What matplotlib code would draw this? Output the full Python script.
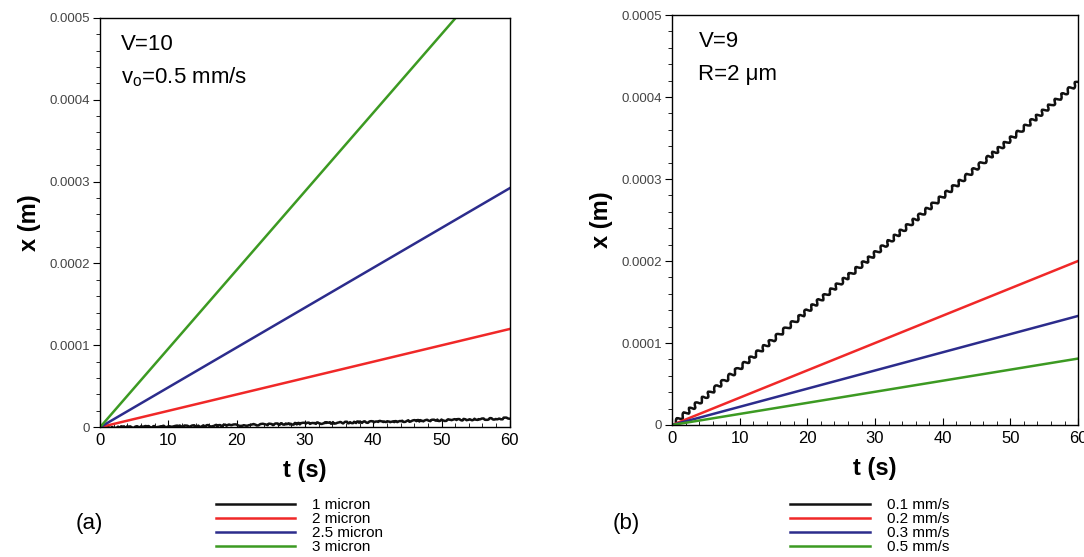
import matplotlib
matplotlib.use("Agg")
import matplotlib.pyplot as plt
from matplotlib.lines import Line2D
from matplotlib.ticker import MultipleLocator, FuncFormatter

# panel (a): V=10, v0=0.5 mm/s, varying particle radius
t_a = [0, 60]
labels_a = ["1 micron", "2 micron", "2.5 micron", "3 micron"]
x_a = [
    [0.0, 0.000011],
    [0.0, 0.000120],
    [0.0, 0.000292],
    [0.0, 0.000576],
]
# 1 micron curve is slightly noisy near zero
t_a1 = [0, 5, 10, 15, 20, 25, 30, 35, 40, 45, 50, 55, 60]
x_a1 = [0, 0.2e-6, 1.0e-6, 1.5e-6, 2.5e-6, 3.5e-6, 4.5e-6, 5.5e-6, 6.5e-6, 7.5e-6, 8.5e-6, 9.5e-6, 11e-6]

# panel (b): V=9, R=2 um, varying initial velocity
t_b = [0, 60]
labels_b = ["0.1 mm/s", "0.2 mm/s", "0.3 mm/s", "0.5 mm/s"]
x_b = [
    [0.0, 0.000418],
    [0.0, 0.000200],
    [0.0, 0.000133],
    [0.0, 0.000081],
]

colors = ["#111111", "#f02828", "#2c2c8c", "#3c9a22"]

fig = plt.figure(figsize=(10.84, 5.57), dpi=100)
ax1 = fig.add_axes([0.0923, 0.233, 0.378, 0.735])
ax2 = fig.add_axes([0.620, 0.237, 0.3745, 0.736])

narrow = ["Liberation Sans Narrow", "Liberation Sans", "DejaVu Sans"]
sans = ["Liberation Sans", "DejaVu Sans"]

def fmt_y(v, pos):
    if abs(v) < 1e-12:
        return "0"
    return "%.4f" % v

def style(ax):
    ax.set_xlim(0, 60)
    ax.set_ylim(0, 0.0005)
    ax.xaxis.set_major_locator(MultipleLocator(10))
    ax.xaxis.set_minor_locator(MultipleLocator(2))
    ax.yaxis.set_major_locator(MultipleLocator(0.0001))
    ax.yaxis.set_minor_locator(MultipleLocator(0.00002))
    ax.yaxis.set_major_formatter(FuncFormatter(fmt_y))
    ax.tick_params(axis="x", which="major", direction="in", length=5, pad=4, labelsize=12)
    ax.tick_params(axis="x", which="minor", direction="in", length=3)
    ax.tick_params(axis="y", which="major", direction="out", length=5, pad=2, labelsize=9.5, labelcolor="#444444")
    ax.tick_params(axis="y", which="minor", direction="out", length=3)
    for lab in ax.get_yticklabels():
        lab.set_family(narrow)
    for lab in ax.get_xticklabels():
        lab.set_family(sans)
    for s in ax.spines.values():
        s.set_linewidth(1.0)
    ax.set_xlabel("t (s)", fontsize=17, fontweight="bold", family=sans, labelpad=8)
    ax.set_ylabel("x (m)", fontsize=17, fontweight="bold", family=sans, labelpad=6)

for i in range(4):
    if i == 0:
        ln, = ax1.plot(t_a1, x_a1, color=colors[i], lw=1.8)
        ln.set_sketch_params(scale=0.8, length=8, randomness=6)
    else:
        ax1.plot(t_a, x_a[i], color=colors[i], lw=1.8)

for i in range(4):
    ln, = ax2.plot(t_b, x_b[i], color=colors[i], lw=1.8)
    if i == 0:
        ln.set_sketch_params(scale=2.2, length=9, randomness=1.5)

# straight legend samples
handles_a = [Line2D([], [], color=c, lw=1.8, label=l) for c, l in zip(colors, labels_a)]
handles_b = [Line2D([], [], color=c, lw=1.8, label=l) for c, l in zip(colors, labels_b)]

style(ax1)
style(ax2)

ax1.text(0.05, 0.96, "V=10", transform=ax1.transAxes, fontsize=16, family=sans, va="top")
ax1.text(0.05, 0.885, "v$_\\mathregular{o}$=0.5 mm/s", transform=ax1.transAxes, fontsize=16, family=sans, va="top")
ax2.text(0.065, 0.96, "V=9", transform=ax2.transAxes, fontsize=16, family=sans, va="top")
ax2.text(0.065, 0.88, "R=2 \u03bcm", transform=ax2.transAxes, fontsize=16, family=sans, va="top")

fig.legend(handles=handles_a, loc="center left", bbox_to_anchor=(0.192, 0.055),
           frameon=False, labelspacing=0.0, handlelength=5.2,
           handletextpad=1.1, borderpad=0, prop={"family": sans, "size": 11})
fig.legend(handles=handles_b, loc="center left", bbox_to_anchor=(0.722, 0.055),
           frameon=False, labelspacing=0.0, handlelength=5.2,
           handletextpad=1.1, borderpad=0, prop={"family": sans, "size": 11})

fig.text(0.082, 0.06, "(a)", fontsize=16, family=sans, ha="center", va="center")
fig.text(0.578, 0.06, "(b)", fontsize=16, family=sans, ha="center", va="center")

fig.savefig("out.png", dpi=100)
